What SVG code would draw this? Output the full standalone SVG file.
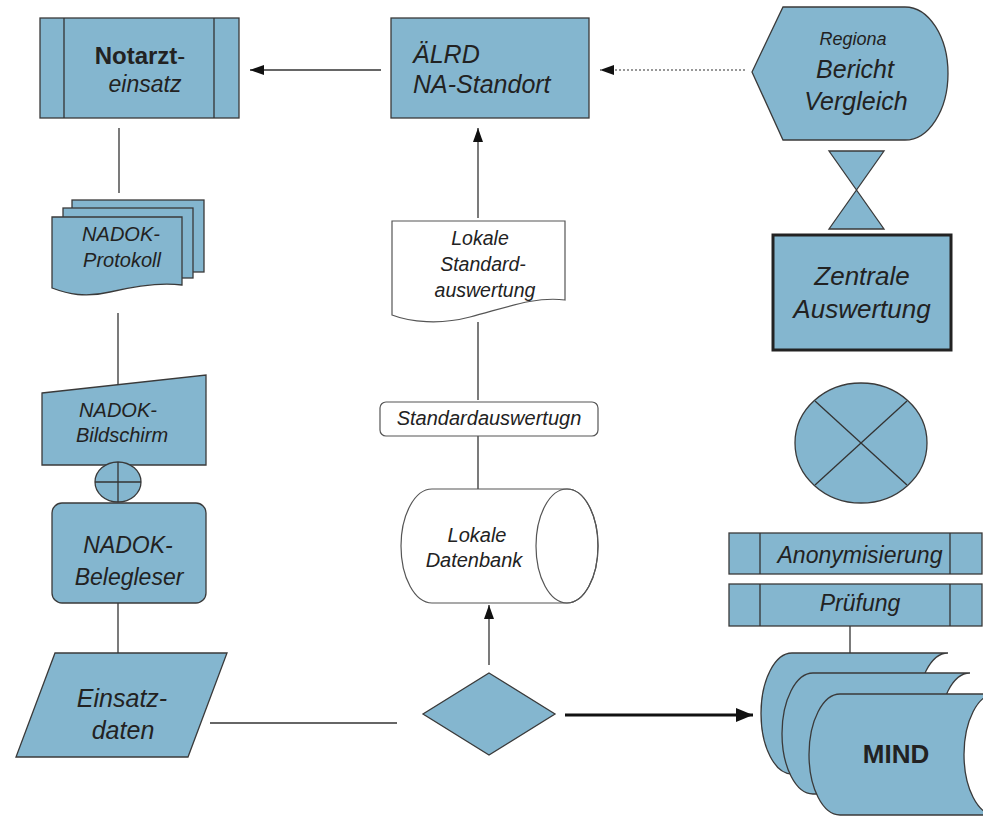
<svg xmlns="http://www.w3.org/2000/svg" width="983" height="816" viewBox="0 0 983 816">
<defs>
<style>
.b{fill:#84b6cf;stroke:#3a3a3a;stroke-width:1.3}
.w{fill:#ffffff;stroke:#555;stroke-width:1.2}
.ln{fill:none;stroke:#333;stroke-width:1.3}
.t{font-family:"Liberation Sans",Arial,sans-serif;font-style:italic;fill:#222;text-anchor:middle}
.ts{font-family:"Liberation Sans",Arial,sans-serif;font-style:italic;fill:#222;text-anchor:start}
.tb{font-family:"Liberation Sans",Arial,sans-serif;font-weight:bold;fill:#222;text-anchor:middle}
</style>
<marker id="ah" viewBox="0 0 14 10" refX="14" refY="5" markerWidth="14" markerHeight="10" orient="auto" markerUnits="userSpaceOnUse"><path d="M0,0 L14,5 L0,10 z" fill="#111"/></marker>
<marker id="ah2" viewBox="0 0 17 14" refX="17" refY="7" markerWidth="17" markerHeight="14" orient="auto" markerUnits="userSpaceOnUse"><path d="M0,0 L17,7 L0,14 z" fill="#111"/></marker>
</defs>
<rect width="983" height="816" fill="#fff"/>

<g id="connectors">
<line class="ln" x1="381" y1="70" x2="250" y2="70" marker-end="url(#ah)"/>
<line x1="745" y1="70" x2="600" y2="70" stroke="#777" stroke-width="1.3" stroke-dasharray="2,2" marker-end="url(#ah)"/>
<line class="ln" x1="478" y1="218" x2="478" y2="128" marker-end="url(#ah)"/>
<line class="ln" x1="119" y1="128" x2="119" y2="193"/>
<line class="ln" x1="118" y1="313" x2="118" y2="385"/>
<line class="ln" x1="118" y1="603" x2="118" y2="653"/>
<line class="ln" x1="478" y1="322" x2="478" y2="400"/>
<line class="ln" x1="478" y1="436" x2="478" y2="489"/>
<line class="ln" x1="210" y1="723" x2="397" y2="723"/>
<line class="ln" x1="489" y1="665" x2="489" y2="605" marker-end="url(#ah)"/>
<line x1="565" y1="715" x2="753" y2="715" stroke="#111" stroke-width="3" marker-end="url(#ah2)"/>
<line class="ln" x1="850" y1="626" x2="850" y2="653"/>
</g>

<g id="notarzteinsatz">
<rect class="b" x="40" y="18" width="199" height="100"/>
<line class="ln" x1="64" y1="18" x2="64" y2="118"/>
<line class="ln" x1="214" y1="18" x2="214" y2="118"/>
<text class="tb" x="140" y="64" font-size="24">Notarzt<tspan font-weight="normal">-</tspan></text>
<text class="t" x="145" y="92" font-size="23">einsatz</text>
</g>

<g id="aelrd">
<rect class="b" x="391" y="18" width="198" height="100"/>
<text class="ts" x="413" y="63" font-size="25">ÄLRD</text>
<text class="ts" x="413" y="93" font-size="25">NA-Standort</text>
</g>

<g id="bericht">
<path class="b" d="M752,72 L783,7 H905 A43,66.5 0 0 1 905,140 H783 Z"/>
<text class="t" x="853" y="45" font-size="18">Regiona</text>
<text class="t" x="855" y="78" font-size="25">Bericht</text>
<text class="t" x="856" y="110" font-size="25">Vergleich</text>
</g>

<g id="sortieren">
<path class="b" d="M829,151 H884 L829,229 H884 Z"/>
</g>

<g id="zentrale">
<rect x="773" y="235" width="178" height="115" fill="#84b6cf" stroke="#222" stroke-width="3"/>
<text class="t" x="862" y="285" font-size="26">Zentrale</text>
<text class="t" x="862" y="318" font-size="26">Auswertung</text>
</g>

<g id="xor">
<ellipse class="b" cx="861" cy="443" rx="66" ry="60"/>
<line class="ln" x1="815" y1="401" x2="907" y2="485"/>
<line class="ln" x1="907" y1="401" x2="815" y2="485"/>
</g>

<g id="anonymisierung">
<rect class="b" x="729" y="533" width="253" height="41"/>
<line class="ln" x1="760" y1="533" x2="760" y2="574"/>
<line class="ln" x1="950" y1="533" x2="950" y2="574"/>
<text class="t" x="860" y="563" font-size="23">Anonymisierung</text>
</g>

<g id="pruefung">
<rect class="b" x="729" y="584" width="253" height="42"/>
<line class="ln" x1="760" y1="584" x2="760" y2="626"/>
<line class="ln" x1="950" y1="584" x2="950" y2="626"/>
<text class="t" x="860" y="611" font-size="23">Prüfung</text>
</g>

<g id="mind">
<path class="b" d="M792,653 H948 A31,60.5 0 0 0 948,774 H792 A31,60.5 0 0 1 792,653 Z"/>
<path class="b" d="M813,673 H970 A31,60.5 0 0 0 970,794 H813 A31,60.5 0 0 1 813,673 Z"/>
<path class="b" d="M840,694 H995 A31,60.5 0 0 0 995,815 H840 A31,60.5 0 0 1 840,694 Z"/>
<text class="tb" x="896" y="763" font-size="26">MIND</text>
</g>

<g id="protokoll">
<rect class="b" x="72" y="200" width="132" height="72"/>
<rect class="b" x="63" y="208" width="130" height="70"/>
<path class="b" d="M52,217 H182 V285 C160,282 135,286 110,292 C85,298 68,294 52,288 Z"/>
<text class="t" x="121" y="241" font-size="20">NADOK-</text>
<text class="t" x="122" y="267" font-size="20">Protokoll</text>
</g>

<g id="bildschirm">
<path class="b" d="M42,393 L206,375 V465 H42 Z"/>
<text class="t" x="118" y="417" font-size="20">NADOK-</text>
<text class="t" x="122" y="442" font-size="20">Bildschirm</text>
</g>

<g id="oder">
<ellipse class="b" cx="118" cy="482" rx="23" ry="20"/>
<line class="ln" x1="95" y1="482" x2="141" y2="482"/>
<line class="ln" x1="118" y1="462" x2="118" y2="502"/>
</g>

<g id="belegleser">
<rect class="b" x="52" y="503" width="154" height="100" rx="10"/>
<text class="t" x="128" y="553" font-size="23">NADOK-</text>
<text class="t" x="129" y="585" font-size="23">Belegleser</text>
</g>

<g id="einsatzdaten">
<path class="b" d="M55,653 H227 L188,757 H16 Z"/>
<text class="t" x="122" y="707" font-size="25">Einsatz-</text>
<text class="t" x="123" y="739" font-size="25">daten</text>
</g>

<g id="lokale-standardauswertung">
<path class="w" d="M392,221 H565 V300 C535,296 505,308 470,317 C440,325 410,322 392,315 Z"/>
<text class="t" x="480" y="245" font-size="19.5">Lokale</text>
<text class="t" x="483" y="271" font-size="19.5">Standard-</text>
<text class="t" x="485" y="297" font-size="19.5">auswertung</text>
</g>

<g id="standardauswertung">
<rect class="w" x="380" y="402" width="218" height="34" rx="6"/>
<text class="t" x="489" y="425" font-size="20">Standardauswertugn</text>
</g>

<g id="datenbank">
<path class="w" d="M432,489 H567 A31,57 0 0 1 567,603 H432 A31,57 0 0 1 432,489 Z"/>
<ellipse cx="567" cy="546" rx="31" ry="57" fill="none" stroke="#555" stroke-width="1.2"/>
<text class="t" x="477" y="542" font-size="20">Lokale</text>
<text class="t" x="474" y="567" font-size="20">Datenbank</text>
</g>

<g id="entscheidung">
<path class="b" d="M489,673 L555,714 L489,755 L423,714 Z"/>
</g>
</svg>
